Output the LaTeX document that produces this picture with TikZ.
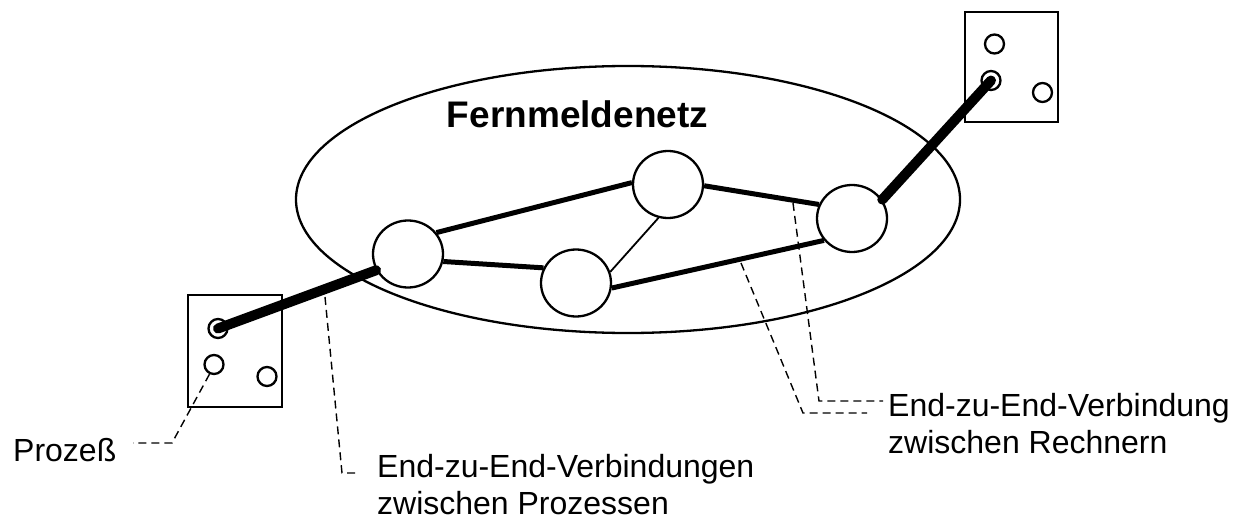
\documentclass[tikz,border=0pt]{standalone}
\usepackage{fontspec}
\setmainfont{Liberation Sans}
\usetikzlibrary{shapes.geometric}
\begin{document}
\begin{tikzpicture}[x=1pt,y=-1pt,
  router/.style={draw,ellipse,line width=2.3pt,minimum width=70pt,minimum height=67pt,inner sep=0pt},
  proc/.style={draw,circle,line width=2.3pt,minimum size=19pt,inner sep=0pt},
  host/.style={draw,rectangle,line width=2.3pt,inner sep=0pt},
  link/.style={line width=5pt},
  thin link/.style={line width=1.8pt},
  e2e/.style={line width=10pt,line cap=round},
  leader/.style={line width=1.4pt,dash pattern=on 8pt off 5pt},
  lbl/.style={anchor=base west,inner sep=0pt,font=\fontsize{32}{37}\selectfont}]
\useasboundingbox (0,0) rectangle (1248,519);
% network cloud
\node[draw,ellipse,line width=2.3pt,minimum width=664pt,minimum height=267pt,inner sep=0pt] (net) at (628,199.5) {};
\node[anchor=base,inner sep=0pt,font=\fontsize{37}{42}\selectfont\bfseries] (title) at (577.5,127) {Fernmeldenetz};
% routers
\node[router] (A) at (408,254) {};
\node[router] (B) at (668,184.5) {};
\node[router] (C) at (576,283) {};
\node[router] (D) at (852,218.5) {};
% hosts
\node[host,minimum width=94pt,minimum height=112pt] (hL) at (235,351) {};
\node[host,minimum width=93pt,minimum height=110pt] (hR) at (1011.5,67) {};
\node[proc] (p1) at (218,328.5) {};
\node[proc] (p2) at (214,364.5) {};
\node[proc] (p3) at (267,376.5) {};
\node[proc] (q1) at (994.5,44) {};
\node[proc] (q2) at (991,80.5) {};
\node[proc] (q3) at (1042.5,92.5) {};
% links
\draw[link] (A.37) -- (B.177);
\draw[link] (A.-12) -- (C.155);
\draw[thin link] (B.-106) -- (C.18);
\draw[link] (C.-8) -- (D.218);
\draw[link] (B.-2) -- (D.157);
% end-to-end process connections
\draw[e2e] (p1.center) -- (A.207);
\draw[e2e] (D.32) -- (q2.center);
% leaders
\coordinate (l1a) at (325,297);
\coordinate (l1b) at (342,473);
\coordinate (l1c) at (357,473);
\coordinate (l2a) at (741,263);
\coordinate (l2b) at (803,413);
\coordinate (l2c) at (867,413);
\coordinate (l3a) at (793,203);
\coordinate (l3b) at (819,401);
\coordinate (l3c) at (883,401);
\coordinate (l4b) at (172,443);
\coordinate (l4c) at (133,443);
\draw[leader] (l1a) -- (l1b) -- (l1c);
\draw[leader] (l2a) -- (l2b) -- (l2c);
\draw[leader] (l3a) -- (l3b) -- (l3c);
\draw[leader] (p2.-115) -- (l4b) -- (l4c);
% labels
\node[lbl] (t1) at (13,461) {Prozeß};
\node[lbl] (t2) at (377,477) {End-zu-End-Verbindungen};
\node[lbl] (t3) at (377,514) {zwischen Prozessen};
\node[lbl] (t4) at (888,416) {End-zu-End-Verbindung};
\node[lbl] (t5) at (888,453) {zwischen Rechnern};
\end{tikzpicture}
\end{document}
